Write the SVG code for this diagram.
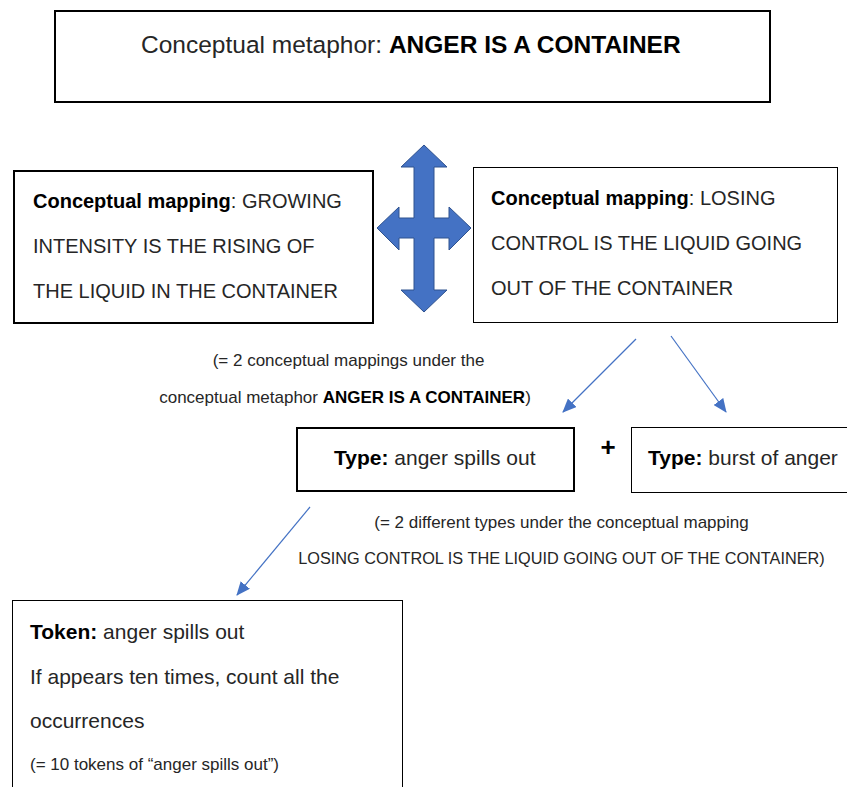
<svg xmlns="http://www.w3.org/2000/svg" width="847" height="787" viewBox="0 0 847 787">
<style>
  text { font-family: "Liberation Sans", Arial, sans-serif; fill: #262626; }
  .b { font-weight: bold; fill: #000; }
  .thick { fill: #fff; stroke: #000; stroke-width: 2; }
  .thin { fill: #fff; stroke: #000; stroke-width: 1; }
  .m { font-size: 20px; }
  .n { font-size: 17px; }
  .t { font-size: 21px; }
  .conn { stroke: #4472C4; stroke-width: 1.2; fill: none; }
</style>
<defs>
  <marker id="ah" markerWidth="14" markerHeight="12" refX="13" refY="6" orient="auto" markerUnits="userSpaceOnUse">
    <path d="M0,0 L14,6 L0,12 Z" fill="#4472C4"/>
  </marker>
</defs>
<rect width="847" height="787" fill="#fff"/>

<g id="metaphor">
  <rect class="thick" x="55" y="11" width="715" height="91"/>
  <text x="141" y="53" style="font-size:24.5px">Conceptual metaphor: <tspan class="b">ANGER IS A CONTAINER</tspan></text>
</g>

<g id="bidirectional-arrow">
  <polygon points="424,145 447,167 434,167 434,218 449,218 449,207 471,228 449,250 449,238 434,238 434,290 447,290 424,312 401,290 414,290 414,238 399,238 399,250 377,228 399,207 399,218 414,218 414,167 401,167" fill="#4472C4" stroke="#2F528F" stroke-width="1"/>
</g>

<g id="mapping-left">
  <rect class="thick" x="14" y="171" width="359" height="152"/>
  <text class="m" x="33" y="208"><tspan class="b">Conceptual mapping</tspan>: GROWING</text>
  <text class="m" x="33" y="253">INTENSITY IS THE RISING OF</text>
  <text class="m" x="33" y="298">THE LIQUID IN THE CONTAINER</text>
</g>

<g id="mapping-right">
  <rect class="thin" x="473.5" y="167.5" width="364" height="155"/>
  <text class="m" x="491" y="205"><tspan class="b">Conceptual mapping</tspan>: LOSING</text>
  <text class="m" x="491" y="250">CONTROL IS THE LIQUID GOING</text>
  <text class="m" x="491" y="295">OUT OF THE CONTAINER</text>
</g>

<g id="note-mappings">
  <text class="n" x="348.5" y="366" text-anchor="middle">(= 2 conceptual mappings under the</text>
  <text class="n" x="345" y="403" text-anchor="middle">conceptual metaphor <tspan class="b">ANGER IS A CONTAINER</tspan>)</text>
</g>

<g id="type-spills">
  <rect class="thick" x="297" y="428" width="277" height="63"/>
  <text class="t" x="334" y="465"><tspan class="b">Type:</tspan> anger spills out</text>
</g>

<g id="plus">
  <text x="608" y="456" text-anchor="middle" style="font-size:26px;font-weight:bold;fill:#000">+</text>
</g>

<g id="type-burst">
  <rect class="thin" x="631.5" y="427.5" width="220" height="65"/>
  <text class="t" x="648" y="465"><tspan class="b">Type:</tspan> burst of anger</text>
</g>

<g id="note-types">
  <text class="n" x="561.5" y="528" text-anchor="middle">(= 2 different types under the conceptual mapping</text>
  <text x="561.5" y="564" text-anchor="middle" style="font-size:16.3px">LOSING CONTROL IS THE LIQUID GOING OUT OF THE CONTAINER)</text>
</g>

<g id="token">
  <rect class="thin" x="12.5" y="600.5" width="390" height="200"/>
  <text class="t" x="30" y="639"><tspan class="b">Token:</tspan> anger spills out</text>
  <text class="t" x="30" y="684">If appears ten times, count all the</text>
  <text class="t" x="30" y="728">occurrences</text>
  <text class="n" x="30" y="770">(= 10 tokens of “anger spills out”)</text>
</g>

<g id="connectors">
  <line class="conn" x1="636" y1="339" x2="563" y2="412" marker-end="url(#ah)"/>
  <line class="conn" x1="671" y1="336" x2="726" y2="412" marker-end="url(#ah)"/>
  <line class="conn" x1="310" y1="507" x2="237" y2="595" marker-end="url(#ah)"/>
</g>
</svg>
